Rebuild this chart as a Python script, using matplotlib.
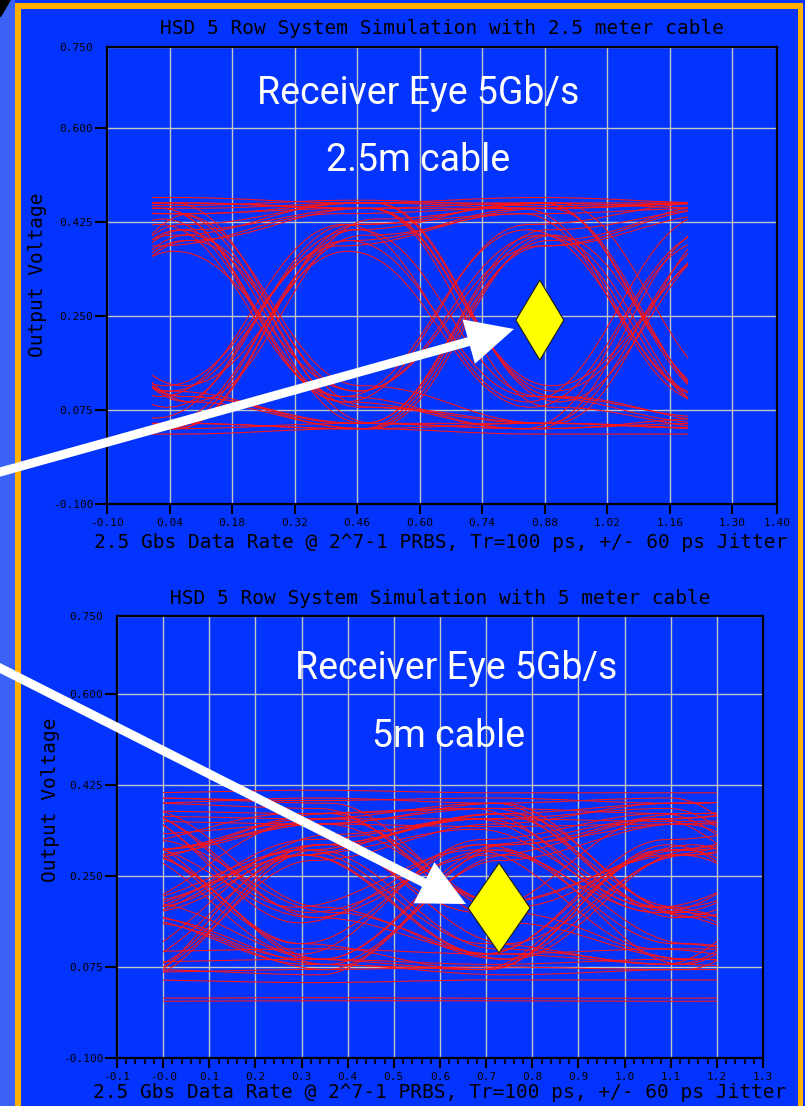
import matplotlib
matplotlib.use("Agg")
from matplotlib import pyplot as plt
from matplotlib.path import Path
from matplotlib.patches import PathPatch, Rectangle, Polygon, FancyArrow
from matplotlib.ticker import MultipleLocator

W, H = 805, 1106
BLUE = "#0334fd"
ORANGE = "#ffb000"
TRACE = "#ff1414"

plt.rcParams["font.family"] = "DejaVu Sans Mono"
plt.rcParams["axes.unicode_minus"] = False

# shared voltage axis
yticks = [-0.100, 0.075, 0.250, 0.425, 0.600, 0.750]
ylabels = ["-0.100", "0.075", "0.250", "0.425", "0.600", "0.750"]

# ---- 2.5 m cable eye ----
top_xticks = [-0.10, 0.04, 0.18, 0.32, 0.46, 0.60, 0.74, 0.88, 1.02, 1.16, 1.30, 1.40]
top_xlabels = ["-0.10", "0.04", "0.18", "0.32", "0.46", "0.60", "0.74",
               "0.88", "1.02", "1.16", "1.30", "1.40"]
top_bit_centers = [-0.36, 0.05, 0.46, 0.87, 1.28]
top_levels = [
    [0.04, 0.41, 0.05, 0.40, 0.06],
    [0.45, 0.10, 0.42, 0.09, 0.44],
    [0.05, 0.44, 0.46, 0.09, 0.40],
    [0.46, 0.46, 0.11, 0.38, 0.45],
    [0.03, 0.04, 0.39, 0.45, 0.46],
    [0.44, 0.09, 0.04, 0.40, 0.08],
    [0.04, 0.38, 0.44, 0.45, 0.10],
    [0.46, 0.12, 0.40, 0.45, 0.46],
    [0.05, 0.05, 0.37, 0.08, 0.41],
    [0.45, 0.45, 0.46, 0.10, 0.05],
    [0.04, 0.42, 0.10, 0.04, 0.39],
    [0.46, 0.44, 0.08, 0.05, 0.04],
    [0.05, 0.39, 0.45, 0.12, 0.38],
    [0.45, 0.11, 0.05, 0.04, 0.42],
    [0.04, 0.04, 0.41, 0.10, 0.06],
    [0.46, 0.09, 0.43, 0.46, 0.11],
    [0.05, 0.43, 0.09, 0.42, 0.46],
    [0.44, 0.44, 0.12, 0.05, 0.40],
    [0.04, 0.40, 0.46, 0.46, 0.45],
    [0.45, 0.10, 0.04, 0.39, 0.46],
    [0.05, 0.06, 0.38, 0.44, 0.09],
    [0.46, 0.46, 0.45, 0.11, 0.39],
    [0.04, 0.37, 0.11, 0.40, 0.07],
    [0.45, 0.12, 0.39, 0.10, 0.05],
    [0.05, 0.41, 0.45, 0.08, 0.04],
    [0.46, 0.45, 0.10, 0.41, 0.10],
    [0.04, 0.05, 0.04, 0.38, 0.44],
    [0.45, 0.44, 0.45, 0.46, 0.09],
    [0.44, 0.08, 0.42, 0.44, 0.45],
    [0.05, 0.39, 0.05, 0.05, 0.04],
    [0.04, 0.40, 0.08, 0.05, 0.43],
    [0.46, 0.11, 0.41, 0.46, 0.46],
    [0.05, 0.42, 0.46, 0.45, 0.08],
    [0.45, 0.45, 0.09, 0.04, 0.05],
    [0.04, 0.04, 0.42, 0.46, 0.10],
    [0.46, 0.10, 0.05, 0.41, 0.45],
    [0.47, 0.47, 0.46, 0.47, 0.46],
    [0.46, 0.455, 0.465, 0.455, 0.46],
    [0.45, 0.46, 0.45, 0.45, 0.46],
    [0.03, 0.03, 0.04, 0.03, 0.03],
    [0.04, 0.05, 0.04, 0.05, 0.04],
    [0.05, 0.04, 0.05, 0.04, 0.06],
]
top_shift = [0.015, -0.030, 0.040, 0.000, -0.015, 0.030, -0.040, 0.020, -0.020, 0.035,
             -0.035, 0.005, 0.025, -0.010, 0.000, 0.040, -0.025, 0.010, -0.005, 0.020,
             -0.040, 0.030, 0.000, -0.020, 0.025, -0.030, 0.010, 0.005, -0.015, 0.035,
             0.030, -0.010, 0.020, -0.030, 0.005, 0.015,
             0.0, 0.0, 0.0, 0.0, 0.0, 0.0]
top_marker = (0.869, 0.242)

# ---- 5 m cable eye ----
bot_xticks = [-0.1, 0.0, 0.1, 0.2, 0.3, 0.4, 0.5, 0.6, 0.7, 0.8, 0.9, 1.0, 1.1, 1.2, 1.3]
bot_xlabels = ["-0.1", "-0.0", "0.1", "0.2", "0.3", "0.4", "0.5", "0.6",
               "0.7", "0.8", "0.9", "1.0", "1.1", "1.2", "1.3"]
bot_bit_centers = [-0.455, -0.065, 0.325, 0.715, 1.105, 1.495]
bot_levels = [
    [0.07, 0.29, 0.09, 0.30, 0.08, 0.30],
    [0.40, 0.19, 0.35, 0.18, 0.36, 0.17],
    [0.08, 0.30, 0.36, 0.19, 0.31, 0.10],
    [0.39, 0.38, 0.18, 0.29, 0.36, 0.39],
    [0.02, 0.06, 0.28, 0.35, 0.39, 0.40],
    [0.40, 0.17, 0.08, 0.29, 0.12, 0.06],
    [0.08, 0.31, 0.37, 0.38, 0.19, 0.09],
    [0.39, 0.20, 0.31, 0.37, 0.39, 0.40],
    [0.06, 0.08, 0.29, 0.10, 0.30, 0.34],
    [0.41, 0.40, 0.39, 0.18, 0.09, 0.07],
    [0.07, 0.32, 0.12, 0.07, 0.29, 0.35],
    [0.38, 0.37, 0.17, 0.10, 0.08, 0.06],
    [0.09, 0.30, 0.35, 0.20, 0.30, 0.11],
    [0.40, 0.18, 0.09, 0.07, 0.30, 0.36],
    [0.05, 0.05, 0.30, 0.11, 0.08, 0.29],
    [0.39, 0.19, 0.33, 0.37, 0.17, 0.31],
    [0.08, 0.33, 0.12, 0.31, 0.36, 0.39],
    [0.37, 0.38, 0.19, 0.09, 0.29, 0.12],
    [0.06, 0.28, 0.36, 0.39, 0.40, 0.18],
    [0.41, 0.16, 0.07, 0.31, 0.37, 0.38],
    [0.07, 0.09, 0.29, 0.36, 0.18, 0.09],
    [0.40, 0.39, 0.38, 0.20, 0.29, 0.35],
    [0.08, 0.31, 0.17, 0.30, 0.12, 0.07],
    [0.38, 0.17, 0.30, 0.12, 0.08, 0.30],
    [0.06, 0.30, 0.37, 0.16, 0.09, 0.08],
    [0.39, 0.38, 0.16, 0.31, 0.18, 0.33],
    [0.07, 0.07, 0.06, 0.28, 0.35, 0.38],
    [0.40, 0.39, 0.40, 0.39, 0.17, 0.29],
    [0.37, 0.18, 0.32, 0.36, 0.38, 0.17],
    [0.09, 0.29, 0.08, 0.06, 0.07, 0.29],
    [0.02, 0.03, 0.29, 0.34, 0.19, 0.30],
    [0.38, 0.20, 0.09, 0.31, 0.35, 0.18],
    [0.06, 0.33, 0.35, 0.38, 0.18, 0.31],
    [0.41, 0.19, 0.29, 0.10, 0.32, 0.36],
    [0.08, 0.30, 0.10, 0.32, 0.37, 0.18],
    [0.39, 0.18, 0.31, 0.12, 0.29, 0.36],
    [0.06, 0.07, 0.31, 0.37, 0.19, 0.30],
    [0.40, 0.38, 0.19, 0.30, 0.11, 0.07],
    [0.07, 0.29, 0.35, 0.39, 0.18, 0.08],
    [0.38, 0.17, 0.08, 0.07, 0.31, 0.12],
    [0.09, 0.32, 0.18, 0.09, 0.30, 0.37],
    [0.41, 0.20, 0.30, 0.36, 0.19, 0.10],
    [0.41, 0.41, 0.415, 0.41, 0.41, 0.41],
    [0.40, 0.40, 0.395, 0.40, 0.39, 0.40],
    [0.37, 0.375, 0.37, 0.38, 0.37, 0.375],
    [0.36, 0.365, 0.36, 0.36, 0.355, 0.36],
    [0.35, 0.355, 0.35, 0.345, 0.35, 0.35],
    [0.11, 0.105, 0.11, 0.10, 0.11, 0.105],
    [0.09, 0.085, 0.09, 0.08, 0.09, 0.085],
    [0.07, 0.065, 0.07, 0.075, 0.07, 0.07],
    [0.05, 0.05, 0.045, 0.05, 0.05, 0.05],
    [0.016, 0.015, 0.016, 0.015, 0.015, 0.016],
    [0.01, 0.009, 0.01, 0.01, 0.009, 0.01],
]
bot_shift = [0.020, -0.035, 0.045, -0.010, 0.000, 0.030, -0.045, 0.015, -0.020, 0.035,
             -0.030, 0.010, 0.025, -0.015, 0.005, 0.040, -0.025, 0.020, -0.005, 0.030,
             -0.040, 0.010, 0.000, -0.020, 0.035, -0.030, 0.015, 0.005, -0.010, 0.025,
             -0.035, 0.020, 0.000, -0.015,
             -0.025, 0.030, 0.010, -0.040, 0.020, -0.010, 0.040, -0.020,
             0.0, 0.0, 0.0, 0.0, 0.0, 0.0, 0.0, 0.0, 0.0, 0.0, 0.0]
bot_marker = (0.728, 0.1885)

title_top = "HSD 5 Row System Simulation with 2.5 meter cable"
title_bot = "HSD 5 Row System Simulation with 5 meter cable"
xlab = "2.5 Gbs Data Rate @ 2^7-1 PRBS, Tr=100 ps, +/- 60 ps Jitter"
ylab = "Output Voltage"


def fx(x):
    return x / W


def fy(y):
    return 1 - y / H


def eye(ax, centers, levels, shifts, k, t_end):
    ui = centers[1] - centers[0]
    clip = Rectangle((0, -0.1), t_end, 0.85, transform=ax.transData)
    for lv, s in zip(levels, shifts):
        t = [c + s for c in centers]
        verts = [(t[0], lv[0])]
        codes = [Path.MOVETO]
        for i in range(len(t) - 1):
            verts += [(t[i] + k * ui, lv[i]), (t[i + 1] - k * ui, lv[i + 1]), (t[i + 1], lv[i + 1])]
            codes += [Path.CURVE4] * 3
        p = PathPatch(Path(verts, codes), fill=False, ec=TRACE, lw=0.75, zorder=3)
        ax.add_patch(p)
        p.set_clip_path(clip)


def diamond(ax, xy, w, h):
    x, y = xy
    ax.add_patch(Polygon([(x - w, y), (x, y + h), (x + w, y), (x, y - h)],
                         closed=True, fc="#ffff00", ec="#1a1a1a", lw=0.8, zorder=4))


def style(ax, xt, xl, minor):
    ax.set_facecolor(BLUE)
    ax.set_xlim(xt[0], xt[-1])
    ax.set_ylim(-0.1, 0.75)
    ax.set_xticks(xt, xl)
    ax.set_yticks(yticks, ylabels)
    if minor:
        ax.xaxis.set_minor_locator(MultipleLocator(0.02))
        ax.tick_params(axis="x", which="minor", length=4, width=1.2, color="black")
    ax.tick_params(axis="y", direction="out", length=9, width=1.5, pad=1, labelsize=8)
    ax.tick_params(axis="x", direction="out", length=7, width=1.5, pad=3, labelsize=8)
    ax.yaxis.get_major_ticks()[-1].tick1line.set_visible(False)
    ax.grid(True, color="#c4c4c4", lw=1.0)
    ax.set_axisbelow(True)
    for sp in ax.spines.values():
        sp.set_color("black")
        sp.set_linewidth(1.6)
        sp.set_zorder(5)


fig = plt.figure(figsize=(W / 100, H / 100), dpi=100, facecolor=BLUE)

# slide background: hazy strip on the left, orange frame
fig.patches.append(Rectangle((0, 0), fx(15), 1, transform=fig.transFigure, fc="#3a62f6", ec="none", zorder=0))
fig.patches.append(Polygon([(fx(0), fy(0)), (fx(11), fy(0)), (fx(1), fy(17)), (fx(0), fy(17))],
                           transform=fig.transFigure, fc="black", ec="none", zorder=1))
fig.patches.append(Rectangle((fx(15), 0), fx(5.5), fy(3), transform=fig.transFigure, fc=ORANGE, ec="none", zorder=1))
fig.patches.append(Rectangle((fx(15), fy(9)), fx(788), 6 / H, transform=fig.transFigure, fc=ORANGE, ec="none", zorder=1))
fig.patches.append(Rectangle((fx(798), 0), fx(5), fy(3), transform=fig.transFigure, fc=ORANGE, ec="none", zorder=1))

ax1 = fig.add_axes([fx(107), fy(504), 670 / W, 457 / H])
eye(ax1, top_bit_centers, top_levels, top_shift, 0.42, 1.2)
diamond(ax1, top_marker, 0.0537, 0.0744)
style(ax1, top_xticks, top_xlabels, False)

ax2 = fig.add_axes([fx(117), fy(1058), 646 / W, 442 / H])
eye(ax2, bot_bit_centers, bot_levels, bot_shift, 0.36, 1.2)
diamond(ax2, bot_marker, 0.0672, 0.0865)
style(ax2, bot_xticks, bot_xlabels, True)

# plotter-style titles and axis labels
mono = dict(family="DejaVu Sans Mono", fontsize=14, color="black", ha="center", va="center")
fig.text(fx(441.5), fy(29), title_top, **mono)
fig.text(fx(441), fy(542), xlab, **mono)
fig.text(fx(37.5), fy(275), ylab, rotation=90, **mono)
fig.text(fx(440), fy(599), title_bot, **mono)
fig.text(fx(440), fy(1093), xlab, **mono)
fig.text(fx(51), fy(800), ylab, rotation=90, **mono)

# slide captions
cap = dict(family="Roboto", fontsize=27, color="white", ha="center", va="baseline", zorder=6)
fig.text(fx(418.5), fy(104), "Receiver Eye 5Gb/s", **cap)
fig.text(fx(418), fy(171), "2.5m cable", **cap)
fig.text(fx(456), fy(679), "Receiver Eye 5Gb/s", **cap)
fig.text(fx(449), fy(747), "5m cable", **cap)


def arrow(x0, y0, x1, y1):
    # pixel coordinates (y down) turned into inches
    a = FancyArrow(x0 / 100, (H - y0) / 100, (x1 - x0) / 100, (y0 - y1) / 100,
                   width=0.09, head_width=0.46, head_length=0.47, length_includes_head=True,
                   fc="white", ec="none", transform=fig.dpi_scale_trans, zorder=10)
    fig.add_artist(a)


arrow(-20, 477.6, 514, 329)
arrow(-20, 657.9, 466, 904)

fig.savefig("out.png", dpi=100, facecolor=BLUE)
